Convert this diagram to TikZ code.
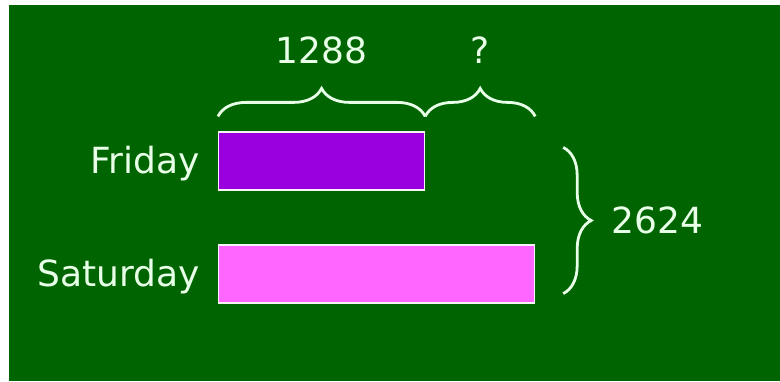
\documentclass[tikz,border=0pt]{standalone}
\usepackage{fontspec}
\setmainfont{DejaVu Sans}
\usetikzlibrary{positioning,decorations.pathreplacing}
\definecolor{boardgreen}{RGB}{0, 100, 0}
\definecolor{chalk}{RGB}{232, 255, 232}
\definecolor{fridaypurple}{RGB}{153, 0, 221}
\definecolor{saturdaypink}{RGB}{255, 102, 255}
\tikzstyle{bar} = [
  draw=white!92!gray,
  line width=1.2pt,
  minimum height=58pt,
  inner sep=0pt,
  anchor=west,
]
\tikzstyle{daybrace} = [
  decorate,
  decoration={brace, amplitude=28pt},
  draw=chalk,
  line width=2.8pt,
]
\tikzstyle{chalktext} = [
  text=chalk,
  font=\fontsize{36}{42}\selectfont,
]

\begin{document}
\begin{tikzpicture}[x=1pt, y=1pt]
            \useasboundingbox (0,0) rectangle (780,381);
            \fill[white] (0,0) rectangle (780,381);
            \fill[boardgreen] (9,0) rectangle (780,376);

            % Bars
            \node[bar, fill=fridaypurple, minimum width=206pt] (fri) at (218,220) {};
            \node[bar, fill=saturdaypink, minimum width=316pt] (sat) at (218,107) {};

            % Day names
            \node[chalktext, left=15pt of fri, yshift=-3pt] (friname) {Friday};
            \node[chalktext, left=15pt of sat, yshift=-3pt] (satname) {Saturday};

            % Brace ends
            \coordinate[yshift=15pt] (b1) at (fri.north west);
            \coordinate[yshift=15pt] (b2) at (fri.north east);
            \coordinate (b3) at (b2 -| sat.east);
            \coordinate[xshift=28pt, yshift=-16pt] (r1) at (fri.north -| sat.east);
            \coordinate[xshift=28pt, yshift=10pt] (r2) at (sat.south east);

            % Braces and their numbers
            \draw[daybrace] (b1) -- (b2) node[midway, above=48pt, chalktext] (part) {1288};
            \draw[daybrace] (b2) -- (b3) node[midway, above=48pt, chalktext] (rest) {?};
            \draw[daybrace] (r1) -- (r2) node[midway, right=44pt, chalktext] (total) {2624};
          \end{tikzpicture}
\end{document}
